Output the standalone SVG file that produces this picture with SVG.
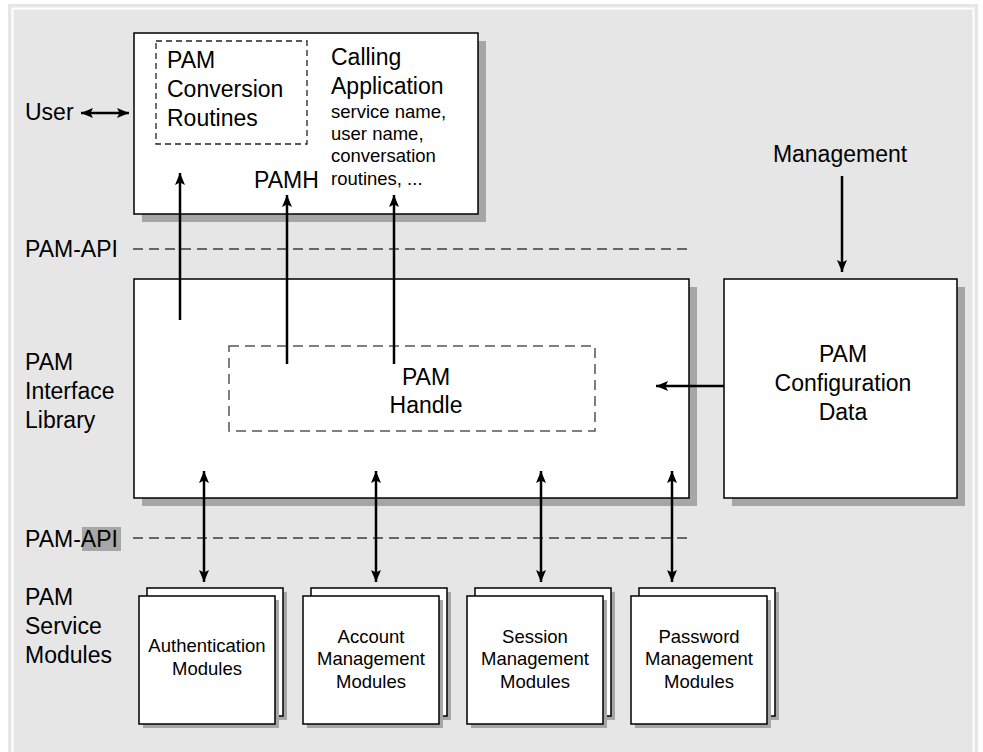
<svg xmlns="http://www.w3.org/2000/svg" width="983" height="752" viewBox="0 0 983 752">
<defs>
<marker id="ah" viewBox="0 0 12 10" refX="12" refY="5" markerWidth="12" markerHeight="10" markerUnits="userSpaceOnUse" orient="auto-start-reverse">
<path d="M0,0 L12,5 L0,10 L2.5,5 z" fill="#000"/>
</marker>
</defs>
<style>
text{font-family:"Liberation Sans",Arial,sans-serif;fill:#000}
.big{font-size:23px}
.sm{font-size:18.5px}
.mid{text-anchor:middle}
.box{fill:#fff;stroke:#000;stroke-width:1.5}
.shadow{fill:#a6a6a6}
.dash{fill:none;stroke:#666;stroke-width:2;stroke-dasharray:10 6}
.dashbox{fill:none;stroke:#222;stroke-width:1.3;stroke-dasharray:6 4}
.dashbox2{fill:none;stroke:#555;stroke-width:1.5;stroke-dasharray:10 6}
.arr{fill:none;stroke:#000;stroke-width:2.5}
</style>
<rect x="0" y="0" width="983" height="752" fill="#fff"/>
<rect x="8" y="4" width="970" height="760" fill="#e6e6e6"/>
<rect x="12.5" y="8.5" width="961" height="760" fill="#e6e6e6" stroke="#fff" stroke-width="2"/>

<g id="labels">
<text class="big" x="25" y="120">User</text>
<text class="big" x="25" y="257">PAM-API</text>
<text class="big" x="25" y="370">PAM</text>
<text class="big" x="25" y="399">Interface</text>
<text class="big" x="25" y="428">Library</text>
<rect x="82" y="527" width="39" height="24" fill="#a6a6a6"/>
<text class="big" x="25" y="547">PAM-API</text>
<text class="big" x="25" y="605">PAM</text>
<text class="big" x="25" y="634">Service</text>
<text class="big" x="25" y="663">Modules</text>
<text class="big mid" x="840" y="162">Management</text>
</g>

<g id="api-lines">
<line class="dash" x1="133" y1="249" x2="687" y2="249"/>
<line class="dash" x1="133" y1="538" x2="687" y2="538"/>
</g>

<g id="calling-application">
<rect class="shadow" x="142" y="41" width="344" height="181"/>
<rect class="box" x="134" y="33" width="344" height="181"/>
<rect class="dashbox" x="156" y="41" width="151" height="103"/>
<text class="big" x="167" y="68">PAM</text>
<text class="big" x="167" y="97">Conversion</text>
<text class="big" x="167" y="126">Routines</text>
<text class="big" x="331" y="65">Calling</text>
<text class="big" x="331" y="94">Application</text>
<text class="sm" x="331" y="118">service name,</text>
<text class="sm" x="331" y="140">user name,</text>
<text class="sm" x="331" y="162">conversation</text>
<text class="sm" x="331" y="185">routines, ...</text>
<text class="big" x="254" y="188">PAMH</text>
</g>

<g id="interface-library">
<rect class="shadow" x="142" y="287" width="555" height="219"/>
<rect class="box" x="134" y="279" width="555" height="219"/>
</g>

<g id="pam-handle">
<rect class="dashbox2" x="229" y="346" width="366" height="85"/>
<text class="big mid" x="426" y="385">PAM</text>
<text class="big mid" x="426" y="413">Handle</text>
</g>

<g id="config-data">
<rect class="shadow" x="732" y="287" width="233" height="219"/>
<rect class="box" x="724" y="279" width="233" height="219"/>
<text class="big mid" x="843" y="362">PAM</text>
<text class="big mid" x="843" y="391">Configuration</text>
<text class="big mid" x="843" y="420">Data</text>
</g>

<g id="auth-modules">
<rect class="shadow" x="151" y="592" width="136" height="128"/>
<rect class="box" x="147" y="588" width="136" height="128"/>
<rect class="shadow" x="143" y="600" width="136" height="128"/>
<rect class="box" x="139" y="596" width="136" height="128"/>
<text class="sm mid" x="207" y="652">Authentication</text>
<text class="sm mid" x="207" y="675">Modules</text>
</g>

<g id="account-modules">
<rect class="shadow" x="315" y="592" width="136" height="128"/>
<rect class="box" x="311" y="588" width="136" height="128"/>
<rect class="shadow" x="307" y="600" width="136" height="128"/>
<rect class="box" x="303" y="596" width="136" height="128"/>
<text class="sm mid" x="371" y="643">Account</text>
<text class="sm mid" x="371" y="665">Management</text>
<text class="sm mid" x="371" y="688">Modules</text>
</g>

<g id="session-modules">
<rect class="shadow" x="479" y="592" width="136" height="128"/>
<rect class="box" x="475" y="588" width="136" height="128"/>
<rect class="shadow" x="471" y="600" width="136" height="128"/>
<rect class="box" x="467" y="596" width="136" height="128"/>
<text class="sm mid" x="535" y="643">Session</text>
<text class="sm mid" x="535" y="665">Management</text>
<text class="sm mid" x="535" y="688">Modules</text>
</g>

<g id="password-modules">
<rect class="shadow" x="643" y="592" width="136" height="128"/>
<rect class="box" x="639" y="588" width="136" height="128"/>
<rect class="shadow" x="635" y="600" width="136" height="128"/>
<rect class="box" x="631" y="596" width="136" height="128"/>
<text class="sm mid" x="699" y="643">Password</text>
<text class="sm mid" x="699" y="665">Management</text>
<text class="sm mid" x="699" y="688">Modules</text>
</g>

<g id="connectors">
<line class="arr" x1="81" y1="113" x2="129" y2="113" marker-start="url(#ah)" marker-end="url(#ah)"/>
<line class="arr" x1="180" y1="320" x2="180" y2="173" marker-end="url(#ah)"/>
<line class="arr" x1="287" y1="364" x2="287" y2="195" marker-end="url(#ah)"/>
<line class="arr" x1="394" y1="364" x2="394" y2="195" marker-end="url(#ah)"/>
<line class="arr" x1="842" y1="176" x2="842" y2="272" marker-end="url(#ah)"/>
<line class="arr" x1="724" y1="386" x2="656" y2="386" marker-end="url(#ah)"/>
<line class="arr" x1="204" y1="471" x2="204" y2="582" marker-start="url(#ah)" marker-end="url(#ah)"/>
<line class="arr" x1="376" y1="471" x2="376" y2="582" marker-start="url(#ah)" marker-end="url(#ah)"/>
<line class="arr" x1="541" y1="471" x2="541" y2="582" marker-start="url(#ah)" marker-end="url(#ah)"/>
<line class="arr" x1="672" y1="471" x2="672" y2="582" marker-start="url(#ah)" marker-end="url(#ah)"/>
</g>
</svg>
